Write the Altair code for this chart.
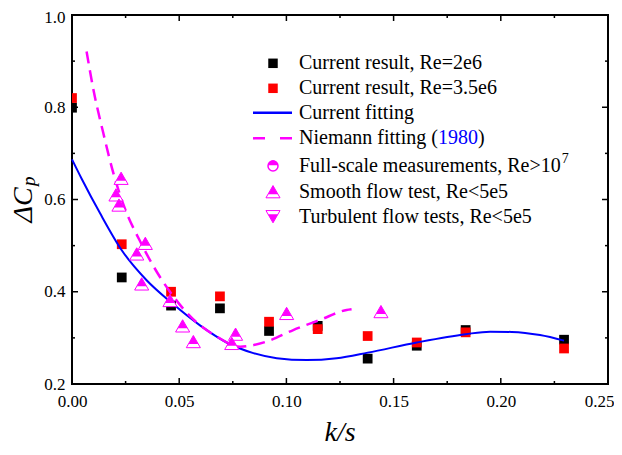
import altair as alt
import pandas as pd

# ---------------- data ----------------
k_black = [0.0, 0.0232, 0.0462, 0.0690, 0.0919, 0.1146, 0.1379, 0.1608, 0.1836, 0.2295]
cp_black = [0.799, 0.431, 0.370, 0.364, 0.315, 0.326, 0.255, 0.283, 0.317, 0.296]
k_red = [0.0, 0.0232, 0.0462, 0.0690, 0.0919, 0.1146, 0.1379, 0.1608, 0.1836, 0.2295]
cp_red = [0.820, 0.503, 0.400, 0.390, 0.335, 0.319, 0.304, 0.290, 0.312, 0.277]

k_smooth = [0.0229, 0.0205, 0.0219, 0.0342, 0.0302, 0.0325, 0.0457, 0.0516, 0.0566, 0.0763, 0.0745, 0.1001, 0.1441]
cp_smooth = [0.646, 0.610, 0.588, 0.505, 0.482, 0.417, 0.381, 0.326, 0.292, 0.308, 0.288, 0.353, 0.357]

k_fit = [0.0, 0.0045, 0.0131, 0.0232, 0.0348, 0.0462, 0.0597, 0.0721, 0.0846, 0.0955, 0.1095,
         0.1234, 0.1379, 0.1608, 0.1836, 0.1950, 0.2051, 0.2183, 0.2295]
cp_fit = [0.687, 0.645, 0.570, 0.490, 0.425, 0.377, 0.327, 0.290, 0.267, 0.256, 0.252,
          0.256, 0.268, 0.290, 0.308, 0.3135, 0.3128, 0.306, 0.294]

k_nie = [0.0068, 0.0100, 0.0146, 0.0193, 0.0247, 0.0317, 0.0379, 0.0457, 0.0566, 0.0675, 0.0784,
         0.0908, 0.1032, 0.1157, 0.1281, 0.1304]
cp_nie = [0.921, 0.838, 0.744, 0.657, 0.580, 0.510, 0.456, 0.400, 0.340, 0.303, 0.281,
          0.292, 0.317, 0.339, 0.3605, 0.362]

x_major = [0.0, 0.05, 0.10, 0.15, 0.20, 0.25]
x_minor = [0.025, 0.075, 0.125, 0.175, 0.225]
y_major = [0.2, 0.4, 0.6, 0.8, 1.0]
y_minor = [0.3, 0.5, 0.7, 0.9]

legend_labels = ["Current result, Re=2e6", "Current result, Re=3.5e6", "Current fitting",
                 "Niemann fitting (", "Full-scale measurements, Re>10",
                 "Smooth flow test, Re<5e5", "Turbulent flow tests, Re<5e5"]
x_title = "k/s"
y_title = "ΔC"
y_sub = "p"

# ---------------- style ----------------
W, H = 536, 369
FONT = "Liberation Serif"
MAG = "#FF00FF"
BLUE = "#0000FF"
RED = "#FF0000"
TRI_UP_FULL = "M0,-1L1.15,1L-1.15,1Z"
TRI_UP_TOP = "M0,-1L0.8,0.4L-0.8,0.4Z"
TRI_DN_FULL = "M0,1L1.15,-1L-1.15,-1Z"
TRI_DN_BOT = "M0,1L0.8,-0.4L-0.8,-0.4Z"
CIRC_FULL = "M-1,0A1,1,0,1,1,1,0A1,1,0,1,1,-1,0Z"
CIRC_TOP = "M-1,-0.15A1,1,0,0,1,1,-0.15Z"

xs = alt.Scale(domain=[0, 0.25], nice=False, zero=False)
ys = alt.Scale(domain=[0.2, 1.0], nice=False, zero=False)
xaxis = alt.Axis(values=x_major, format=".2f", ticks=False, domain=False, grid=False,
                 labelFont=FONT, labelFontSize=17, labelColor="black", labelPadding=9,
                 labelFlush=False, labelOverlap=False, title=None,
                 labelAlign={"expr": "datum.value >= 0.249 ? 'right' : 'center'"},
                 labelOffset={"expr": "datum.value >= 0.249 ? 6 : 0"})
yaxis = alt.Axis(values=y_major, format=".1f", ticks=False, domain=False, grid=False,
                 labelFont=FONT, labelFontSize=17, labelColor="black", labelPadding=7,
                 labelFlush=False, labelOverlap=False, title=None,
                 labelOffset={"expr": "datum.value >= 0.99 ? 2 : 0"})


def X():
    return alt.X("k:Q", scale=xs, axis=xaxis)


def Y():
    return alt.Y("cp:Q", scale=ys, axis=yaxis)


df_black = pd.DataFrame({"k": k_black, "cp": cp_black})
df_red = pd.DataFrame({"k": k_red, "cp": cp_red})
df_smooth = pd.DataFrame({"k": k_smooth, "cp": cp_smooth})
df_fit = pd.DataFrame({"k": k_fit, "cp": cp_fit})
df_nie = pd.DataFrame({"k": k_nie, "cp": cp_nie})

layers = []

black = alt.Chart(df_black).mark_point(shape="square", filled=True, color="black", size=95,
                                       opacity=1, clip=True).encode(x=X(), y=Y())
red = alt.Chart(df_red).mark_point(shape="square", filled=True, color=RED, size=95,
                                   opacity=1, clip=True).encode(x=X(), y=Y())
fit = alt.Chart(df_fit).mark_line(color=BLUE, strokeWidth=2, interpolate="monotone").encode(x=X(), y=Y())
nie = alt.Chart(df_nie).mark_line(color=MAG, strokeWidth=2.5, strokeDash=[12, 7],
                                  interpolate="monotone").encode(x=X(), y=Y())
tri_a = alt.Chart(df_smooth).mark_point(shape=TRI_UP_FULL, filled=True, fill="white", stroke=MAG,
                                        strokeWidth=1, size=150, opacity=1).encode(x=X(), y=Y())
tri_b = alt.Chart(df_smooth).mark_point(shape=TRI_UP_TOP, filled=True, fill=MAG, strokeWidth=0,
                                        size=150, opacity=1).encode(x=X(), y=Y())
layers += [black, red, fit, nie, tri_a, tri_b]

# inward ticks
def xticks(vals, length):
    d = pd.DataFrame({"k": vals})
    bot = alt.Chart(d).mark_rule(color="black", strokeWidth=1.5).encode(
        x=X(), y=alt.value(H), y2=alt.value(H - length))
    top = alt.Chart(d).mark_rule(color="black", strokeWidth=1.5).encode(
        x=X(), y=alt.value(0), y2=alt.value(length))
    return [bot, top]


def yticks(vals, length):
    d = pd.DataFrame({"cp": vals})
    lft = alt.Chart(d).mark_rule(color="black", strokeWidth=1.5).encode(
        y=Y(), x=alt.value(0), x2=alt.value(length))
    rgt = alt.Chart(d).mark_rule(color="black", strokeWidth=1.5).encode(
        y=Y(), x=alt.value(W), x2=alt.value(W - length))
    return [lft, rgt]


layers += xticks(x_major[1:-1], 6) + xticks(x_minor, 3) + yticks(y_major[1:-1], 6) + yticks(y_minor, 3)

# axis titles
one = pd.DataFrame({"t": [x_title]})
layers.append(alt.Chart(one).mark_text(font=FONT, fontStyle="italic", fontSize=28, align="center",
                                       baseline="alphabetic", color="black").encode(
    x=alt.value(268), y=alt.value(426), text="t:N"))
layers.append(alt.Chart(pd.DataFrame({"t": [y_title]})).mark_text(
    font=FONT, fontStyle="italic", fontSize=28, align="center", baseline="alphabetic", angle=270,
    color="black").encode(x=alt.value(-40), y=alt.value(190), text="t:N"))
layers.append(alt.Chart(pd.DataFrame({"t": [y_sub]})).mark_text(
    font=FONT, fontStyle="italic", fontSize=19, align="left", baseline="alphabetic", angle=270,
    color="black").encode(x=alt.value(-37), y=alt.value(171), text="t:N"))

# legend
LX_TEXT, LX_SYM, LX_L0, LX_L1 = 227, 201, 181, 220
row_y = [48.3, 73.3, 97.7, 123.3, 151, 176.7, 201.7]
FS = 20


def ltext(txt, x, y, color="black", size=FS):
    return alt.Chart(pd.DataFrame({"t": [txt]})).mark_text(
        font=FONT, fontSize=size, align="left", baseline="middle", color=color).encode(
        x=alt.value(x), y=alt.value(y), text="t:N")


def lsym(shape, y, **kw):
    return alt.Chart(pd.DataFrame({"t": [1]})).mark_point(shape=shape, opacity=1, **kw).encode(
        x=alt.value(LX_SYM), y=alt.value(y))


for lab, y in zip(legend_labels, row_y):
    layers.append(ltext(lab, LX_TEXT, y))

nie_w = 6.944 * FS
layers.append(ltext("1980", LX_TEXT + nie_w, row_y[3], color=BLUE))
layers.append(ltext(")", LX_TEXT + nie_w + 2.0 * FS, row_y[3]))
layers.append(ltext("7", LX_TEXT + 13.09 * FS + 1, row_y[4] - 7, size=14))

layers.append(lsym("square", row_y[0], filled=True, color="black", size=90))
layers.append(lsym("square", row_y[1], filled=True, color=RED, size=90))
layers.append(alt.Chart(pd.DataFrame({"t": [1]})).mark_rule(color=BLUE, strokeWidth=2.5).encode(
    x=alt.value(LX_L0), x2=alt.value(LX_L1), y=alt.value(row_y[2])))
layers.append(alt.Chart(pd.DataFrame({"t": [1]})).mark_rule(color=MAG, strokeWidth=2.5, strokeDash=[12, 15]).encode(
    x=alt.value(LX_L0), x2=alt.value(LX_L1), y=alt.value(row_y[3])))
layers.append(lsym(CIRC_FULL, row_y[4], filled=True, fill="white", stroke=MAG, strokeWidth=1.5, size=100))
layers.append(lsym(CIRC_TOP, row_y[4], filled=True, fill=MAG, strokeWidth=0, size=100))
layers.append(lsym(TRI_UP_FULL, row_y[5], filled=True, fill="white", stroke=MAG, strokeWidth=1, size=150))
layers.append(lsym(TRI_UP_TOP, row_y[5], filled=True, fill=MAG, strokeWidth=0, size=150))
layers.append(lsym(TRI_DN_FULL, row_y[6], filled=True, fill="white", stroke=MAG, strokeWidth=1, size=150))
layers.append(lsym(TRI_DN_BOT, row_y[6], filled=True, fill=MAG, strokeWidth=0, size=150))

chart = alt.layer(*layers).properties(
    width=W, height=H,
    padding={"left": 64, "top": 7, "right": 6, "bottom": 63},
    autosize=alt.AutoSizeParams(type="none"),
).configure_view(stroke="black", strokeWidth=2)

chart.save("out.html", embed_options={"renderer": "svg", "actions": False})
